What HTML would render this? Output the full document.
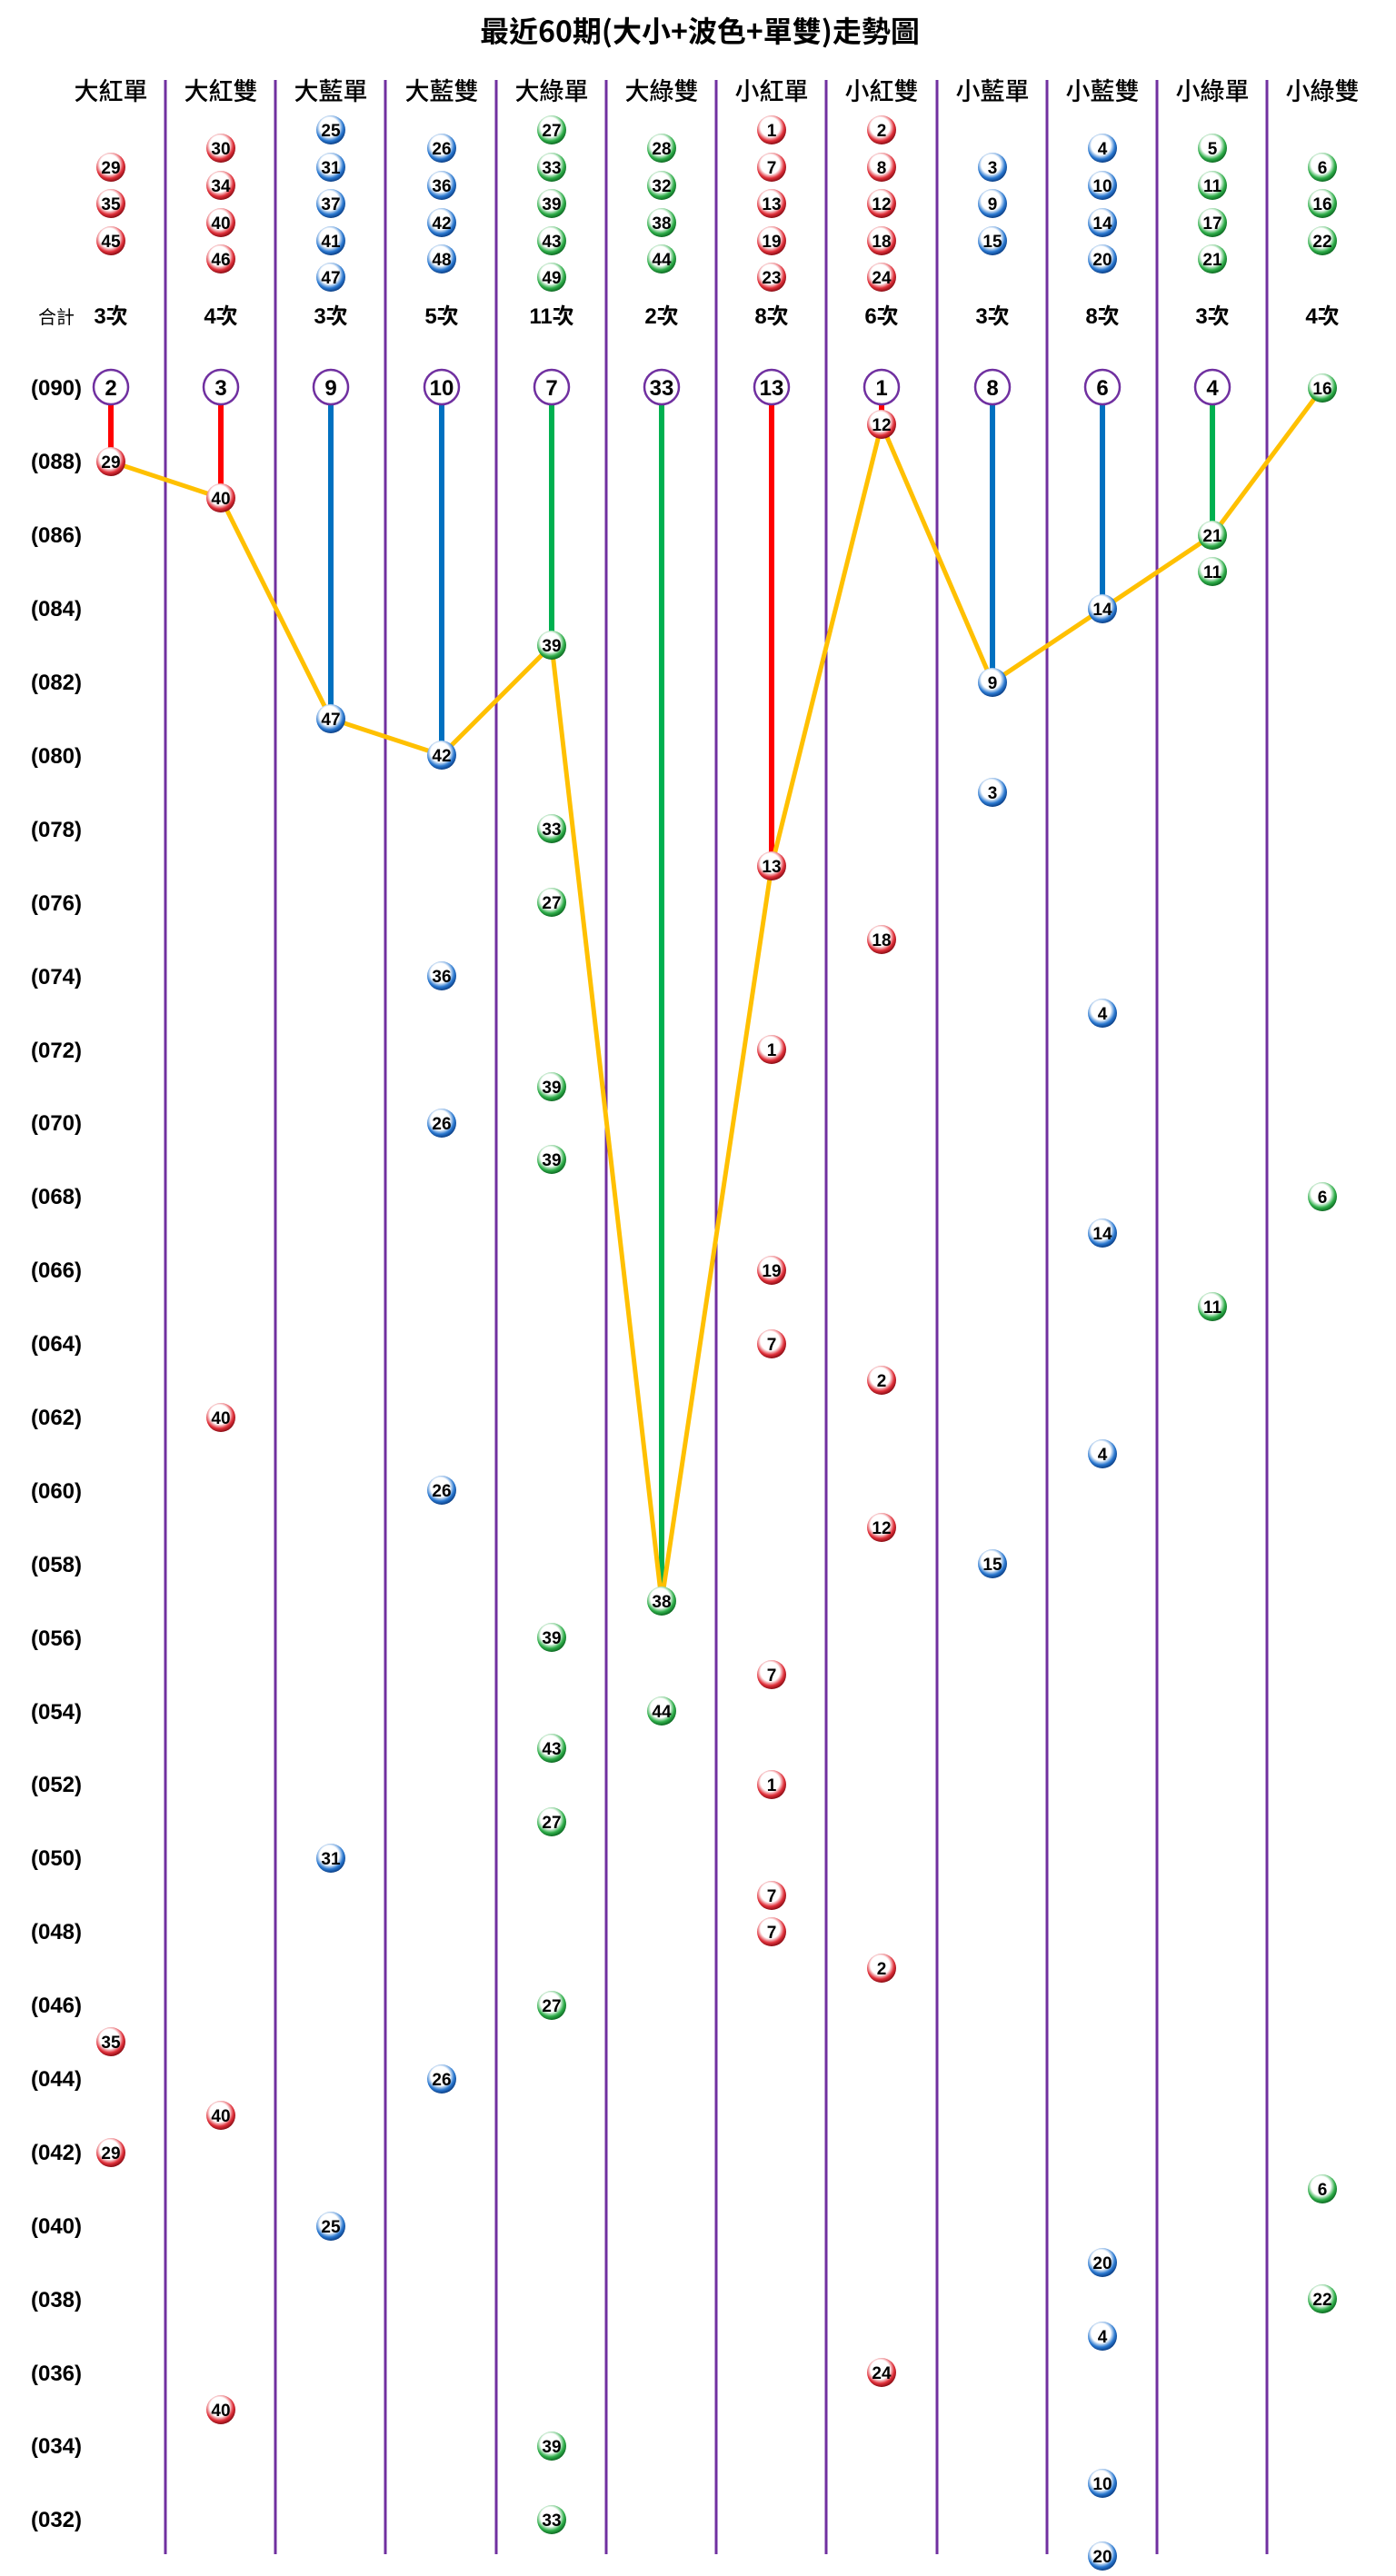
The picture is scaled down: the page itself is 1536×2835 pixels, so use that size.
<!DOCTYPE html>
<html><head><meta charset="utf-8">
<style>
html,body{margin:0;padding:0;background:#fff;}
svg{display:block;}
text{font-family:"Liberation Sans","Noto Sans CJK TC",sans-serif;}
.h{font-size:27px;fill:#000;text-anchor:middle;font-family:"Noto Sans CJK TC","Liberation Sans",sans-serif;font-weight:500}
.t{font-size:24px;fill:#000;text-anchor:middle;font-weight:bold;font-family:"Liberation Sans","Noto Sans CJK TC",sans-serif;}
.p{font-size:24px;font-weight:bold;fill:#000;text-anchor:middle;}
.c{font-size:24px;font-weight:bold;fill:#000;text-anchor:middle;}
.b text{font-size:19px;font-weight:bold;fill:#000;text-anchor:middle;transform:translateY(1px);}
</style></head><body>
<svg width="1536" height="2835" viewBox="0 0 1536 2835" xmlns="http://www.w3.org/2000/svg">
<defs>
<radialGradient id="gR" cx="45%" cy="40%" r="60%"><stop offset="0" stop-color="#fff"/><stop offset="0.55" stop-color="#fff"/><stop offset="0.8" stop-color="#e0303a"/><stop offset="1" stop-color="#8a0c14"/></radialGradient>
<radialGradient id="gB" cx="45%" cy="40%" r="60%"><stop offset="0" stop-color="#fff"/><stop offset="0.55" stop-color="#fff"/><stop offset="0.8" stop-color="#2a78d0"/><stop offset="1" stop-color="#0b3f86"/></radialGradient>
<radialGradient id="gG" cx="45%" cy="40%" r="60%"><stop offset="0" stop-color="#fff"/><stop offset="0.55" stop-color="#fff"/><stop offset="0.8" stop-color="#2fae4a"/><stop offset="1" stop-color="#0d6a22"/></radialGradient>
</defs>
<text x="770" y="46" style="font-size:32px;font-weight:bold;text-anchor:middle;font-family:'Noto Sans CJK TC','Liberation Sans',sans-serif">最近60期(大小+波色+單雙)走勢圖</text>
<g stroke="#7030A0" stroke-width="3">
<line x1="182" y1="88" x2="182" y2="2811"/><line x1="303" y1="88" x2="303" y2="2811"/><line x1="424" y1="88" x2="424" y2="2811"/><line x1="546" y1="88" x2="546" y2="2811"/><line x1="667" y1="88" x2="667" y2="2811"/><line x1="788" y1="88" x2="788" y2="2811"/><line x1="909" y1="88" x2="909" y2="2811"/><line x1="1031" y1="88" x2="1031" y2="2811"/><line x1="1152" y1="88" x2="1152" y2="2811"/><line x1="1273" y1="88" x2="1273" y2="2811"/><line x1="1394" y1="88" x2="1394" y2="2811"/>
</g>
<g class="h">
<text x="122" y="110">大紅單</text><text x="243" y="110">大紅雙</text><text x="364" y="110">大藍單</text><text x="486" y="110">大藍雙</text><text x="607" y="110">大綠單</text><text x="728" y="110">大綠雙</text><text x="849" y="110">小紅單</text><text x="970" y="110">小紅雙</text><text x="1092" y="110">小藍單</text><text x="1213" y="110">小藍雙</text><text x="1334" y="110">小綠單</text><text x="1455" y="110">小綠雙</text>
</g>
<g class="t">
<text x="62" y="356" style="font-size:20px;font-weight:normal">合計</text>
<text x="122" y="356">3次</text><text x="243" y="356">4次</text><text x="364" y="356">3次</text><text x="486" y="356">5次</text><text x="607" y="356">11次</text><text x="728" y="356">2次</text><text x="849" y="356">8次</text><text x="970" y="356">6次</text><text x="1092" y="356">3次</text><text x="1213" y="356">8次</text><text x="1334" y="356">3次</text><text x="1455" y="356">4次</text>
</g>
<g class="p">
<text x="62" y="435">(090)</text><text x="62" y="516">(088)</text><text x="62" y="597">(086)</text><text x="62" y="678">(084)</text><text x="62" y="759">(082)</text><text x="62" y="840">(080)</text><text x="62" y="921">(078)</text><text x="62" y="1002">(076)</text><text x="62" y="1083">(074)</text><text x="62" y="1164">(072)</text><text x="62" y="1244">(070)</text><text x="62" y="1325">(068)</text><text x="62" y="1406">(066)</text><text x="62" y="1487">(064)</text><text x="62" y="1568">(062)</text><text x="62" y="1649">(060)</text><text x="62" y="1730">(058)</text><text x="62" y="1811">(056)</text><text x="62" y="1892">(054)</text><text x="62" y="1972">(052)</text><text x="62" y="2053">(050)</text><text x="62" y="2134">(048)</text><text x="62" y="2215">(046)</text><text x="62" y="2296">(044)</text><text x="62" y="2377">(042)</text><text x="62" y="2458">(040)</text><text x="62" y="2539">(038)</text><text x="62" y="2620">(036)</text><text x="62" y="2700">(034)</text><text x="62" y="2781">(032)</text>
</g>
<g stroke-width="6">
<line x1="122" y1="445" x2="122" y2="508" stroke="#FF0000"/>
<line x1="243" y1="445" x2="243" y2="548" stroke="#FF0000"/>
<line x1="364" y1="445" x2="364" y2="791" stroke="#0070C0"/>
<line x1="486" y1="445" x2="486" y2="831" stroke="#0070C0"/>
<line x1="607" y1="445" x2="607" y2="710" stroke="#00B050"/>
<line x1="728" y1="445" x2="728" y2="1762" stroke="#00B050"/>
<line x1="849" y1="445" x2="849" y2="953" stroke="#FF0000"/>
<line x1="970" y1="445" x2="970" y2="467" stroke="#FF0000"/>
<line x1="1092" y1="445" x2="1092" y2="751" stroke="#0070C0"/>
<line x1="1213" y1="445" x2="1213" y2="670" stroke="#0070C0"/>
<line x1="1334" y1="445" x2="1334" y2="589" stroke="#00B050"/>
</g>
<polyline fill="none" stroke="#FFC000" stroke-width="5" stroke-linejoin="round" points="122,508 243,548 364,791 486,831 607,710 728,1762 849,953 970,467 1092,751 1213,670 1334,589 1455,427"/>
<g fill="#fff" stroke="#7030A0" stroke-width="2.5">
<circle cx="122" cy="426" r="19"/><circle cx="243" cy="426" r="19"/><circle cx="364" cy="426" r="19"/><circle cx="486" cy="426" r="19"/><circle cx="607" cy="426" r="19"/><circle cx="728" cy="426" r="19"/><circle cx="849" cy="426" r="19"/><circle cx="970" cy="426" r="19"/><circle cx="1092" cy="426" r="19"/><circle cx="1213" cy="426" r="19"/><circle cx="1334" cy="426" r="19"/>
</g>
<g class="c">
<text x="122" y="435">2</text><text x="243" y="435">3</text><text x="364" y="435">9</text><text x="486" y="435">10</text><text x="607" y="435">7</text><text x="728" y="435">33</text><text x="849" y="435">13</text><text x="970" y="435">1</text><text x="1092" y="435">8</text><text x="1213" y="435">6</text><text x="1334" y="435">4</text>
</g>
<g class="b">
<circle cx="122" cy="184" r="16" fill="url(#gR)"/><text x="122" y="190">29</text>
<circle cx="122" cy="224" r="16" fill="url(#gR)"/><text x="122" y="230">35</text>
<circle cx="122" cy="265" r="16" fill="url(#gR)"/><text x="122" y="271">45</text>
<circle cx="243" cy="163" r="16" fill="url(#gR)"/><text x="243" y="169">30</text>
<circle cx="243" cy="204" r="16" fill="url(#gR)"/><text x="243" y="210">34</text>
<circle cx="243" cy="245" r="16" fill="url(#gR)"/><text x="243" y="251">40</text>
<circle cx="243" cy="285" r="16" fill="url(#gR)"/><text x="243" y="291">46</text>
<circle cx="364" cy="143" r="16" fill="url(#gB)"/><text x="364" y="149">25</text>
<circle cx="364" cy="184" r="16" fill="url(#gB)"/><text x="364" y="190">31</text>
<circle cx="364" cy="224" r="16" fill="url(#gB)"/><text x="364" y="230">37</text>
<circle cx="364" cy="265" r="16" fill="url(#gB)"/><text x="364" y="271">41</text>
<circle cx="364" cy="305" r="16" fill="url(#gB)"/><text x="364" y="311">47</text>
<circle cx="486" cy="163" r="16" fill="url(#gB)"/><text x="486" y="169">26</text>
<circle cx="486" cy="204" r="16" fill="url(#gB)"/><text x="486" y="210">36</text>
<circle cx="486" cy="245" r="16" fill="url(#gB)"/><text x="486" y="251">42</text>
<circle cx="486" cy="285" r="16" fill="url(#gB)"/><text x="486" y="291">48</text>
<circle cx="607" cy="143" r="16" fill="url(#gG)"/><text x="607" y="149">27</text>
<circle cx="607" cy="184" r="16" fill="url(#gG)"/><text x="607" y="190">33</text>
<circle cx="607" cy="224" r="16" fill="url(#gG)"/><text x="607" y="230">39</text>
<circle cx="607" cy="265" r="16" fill="url(#gG)"/><text x="607" y="271">43</text>
<circle cx="607" cy="305" r="16" fill="url(#gG)"/><text x="607" y="311">49</text>
<circle cx="728" cy="163" r="16" fill="url(#gG)"/><text x="728" y="169">28</text>
<circle cx="728" cy="204" r="16" fill="url(#gG)"/><text x="728" y="210">32</text>
<circle cx="728" cy="245" r="16" fill="url(#gG)"/><text x="728" y="251">38</text>
<circle cx="728" cy="285" r="16" fill="url(#gG)"/><text x="728" y="291">44</text>
<circle cx="849" cy="143" r="16" fill="url(#gR)"/><text x="849" y="149">1</text>
<circle cx="849" cy="184" r="16" fill="url(#gR)"/><text x="849" y="190">7</text>
<circle cx="849" cy="224" r="16" fill="url(#gR)"/><text x="849" y="230">13</text>
<circle cx="849" cy="265" r="16" fill="url(#gR)"/><text x="849" y="271">19</text>
<circle cx="849" cy="305" r="16" fill="url(#gR)"/><text x="849" y="311">23</text>
<circle cx="970" cy="143" r="16" fill="url(#gR)"/><text x="970" y="149">2</text>
<circle cx="970" cy="184" r="16" fill="url(#gR)"/><text x="970" y="190">8</text>
<circle cx="970" cy="224" r="16" fill="url(#gR)"/><text x="970" y="230">12</text>
<circle cx="970" cy="265" r="16" fill="url(#gR)"/><text x="970" y="271">18</text>
<circle cx="970" cy="305" r="16" fill="url(#gR)"/><text x="970" y="311">24</text>
<circle cx="1092" cy="184" r="16" fill="url(#gB)"/><text x="1092" y="190">3</text>
<circle cx="1092" cy="224" r="16" fill="url(#gB)"/><text x="1092" y="230">9</text>
<circle cx="1092" cy="265" r="16" fill="url(#gB)"/><text x="1092" y="271">15</text>
<circle cx="1213" cy="163" r="16" fill="url(#gB)"/><text x="1213" y="169">4</text>
<circle cx="1213" cy="204" r="16" fill="url(#gB)"/><text x="1213" y="210">10</text>
<circle cx="1213" cy="245" r="16" fill="url(#gB)"/><text x="1213" y="251">14</text>
<circle cx="1213" cy="285" r="16" fill="url(#gB)"/><text x="1213" y="291">20</text>
<circle cx="1334" cy="163" r="16" fill="url(#gG)"/><text x="1334" y="169">5</text>
<circle cx="1334" cy="204" r="16" fill="url(#gG)"/><text x="1334" y="210">11</text>
<circle cx="1334" cy="245" r="16" fill="url(#gG)"/><text x="1334" y="251">17</text>
<circle cx="1334" cy="285" r="16" fill="url(#gG)"/><text x="1334" y="291">21</text>
<circle cx="1455" cy="184" r="16" fill="url(#gG)"/><text x="1455" y="190">6</text>
<circle cx="1455" cy="224" r="16" fill="url(#gG)"/><text x="1455" y="230">16</text>
<circle cx="1455" cy="265" r="16" fill="url(#gG)"/><text x="1455" y="271">22</text>
</g>
<g class="b">
<circle cx="122" cy="508" r="16" fill="url(#gR)"/><text x="122" y="514">29</text>
<circle cx="122" cy="2247" r="16" fill="url(#gR)"/><text x="122" y="2253">35</text>
<circle cx="122" cy="2369" r="16" fill="url(#gR)"/><text x="122" y="2375">29</text>
<circle cx="243" cy="548" r="16" fill="url(#gR)"/><text x="243" y="554">40</text>
<circle cx="243" cy="1560" r="16" fill="url(#gR)"/><text x="243" y="1566">40</text>
<circle cx="243" cy="2328" r="16" fill="url(#gR)"/><text x="243" y="2334">40</text>
<circle cx="243" cy="2652" r="16" fill="url(#gR)"/><text x="243" y="2658">40</text>
<circle cx="364" cy="791" r="16" fill="url(#gB)"/><text x="364" y="797">47</text>
<circle cx="364" cy="2045" r="16" fill="url(#gB)"/><text x="364" y="2051">31</text>
<circle cx="364" cy="2450" r="16" fill="url(#gB)"/><text x="364" y="2456">25</text>
<circle cx="486" cy="831" r="16" fill="url(#gB)"/><text x="486" y="837">42</text>
<circle cx="486" cy="1074" r="16" fill="url(#gB)"/><text x="486" y="1080">36</text>
<circle cx="486" cy="1236" r="16" fill="url(#gB)"/><text x="486" y="1242">26</text>
<circle cx="486" cy="1640" r="16" fill="url(#gB)"/><text x="486" y="1646">26</text>
<circle cx="486" cy="2288" r="16" fill="url(#gB)"/><text x="486" y="2294">26</text>
<circle cx="607" cy="710" r="16" fill="url(#gG)"/><text x="607" y="716">39</text>
<circle cx="607" cy="912" r="16" fill="url(#gG)"/><text x="607" y="918">33</text>
<circle cx="607" cy="993" r="16" fill="url(#gG)"/><text x="607" y="999">27</text>
<circle cx="607" cy="1196" r="16" fill="url(#gG)"/><text x="607" y="1202">39</text>
<circle cx="607" cy="1276" r="16" fill="url(#gG)"/><text x="607" y="1282">39</text>
<circle cx="607" cy="1802" r="16" fill="url(#gG)"/><text x="607" y="1808">39</text>
<circle cx="607" cy="1924" r="16" fill="url(#gG)"/><text x="607" y="1930">43</text>
<circle cx="607" cy="2005" r="16" fill="url(#gG)"/><text x="607" y="2011">27</text>
<circle cx="607" cy="2207" r="16" fill="url(#gG)"/><text x="607" y="2213">27</text>
<circle cx="607" cy="2692" r="16" fill="url(#gG)"/><text x="607" y="2698">39</text>
<circle cx="607" cy="2773" r="16" fill="url(#gG)"/><text x="607" y="2779">33</text>
<circle cx="728" cy="1762" r="16" fill="url(#gG)"/><text x="728" y="1768">38</text>
<circle cx="728" cy="1883" r="16" fill="url(#gG)"/><text x="728" y="1889">44</text>
<circle cx="849" cy="953" r="16" fill="url(#gR)"/><text x="849" y="959">13</text>
<circle cx="849" cy="1155" r="16" fill="url(#gR)"/><text x="849" y="1161">1</text>
<circle cx="849" cy="1398" r="16" fill="url(#gR)"/><text x="849" y="1404">19</text>
<circle cx="849" cy="1479" r="16" fill="url(#gR)"/><text x="849" y="1485">7</text>
<circle cx="849" cy="1843" r="16" fill="url(#gR)"/><text x="849" y="1849">7</text>
<circle cx="849" cy="1964" r="16" fill="url(#gR)"/><text x="849" y="1970">1</text>
<circle cx="849" cy="2086" r="16" fill="url(#gR)"/><text x="849" y="2092">7</text>
<circle cx="849" cy="2126" r="16" fill="url(#gR)"/><text x="849" y="2132">7</text>
<circle cx="970" cy="467" r="16" fill="url(#gR)"/><text x="970" y="473">12</text>
<circle cx="970" cy="1034" r="16" fill="url(#gR)"/><text x="970" y="1040">18</text>
<circle cx="970" cy="1519" r="16" fill="url(#gR)"/><text x="970" y="1525">2</text>
<circle cx="970" cy="1681" r="16" fill="url(#gR)"/><text x="970" y="1687">12</text>
<circle cx="970" cy="2166" r="16" fill="url(#gR)"/><text x="970" y="2172">2</text>
<circle cx="970" cy="2611" r="16" fill="url(#gR)"/><text x="970" y="2617">24</text>
<circle cx="1092" cy="751" r="16" fill="url(#gB)"/><text x="1092" y="757">9</text>
<circle cx="1092" cy="872" r="16" fill="url(#gB)"/><text x="1092" y="878">3</text>
<circle cx="1092" cy="1721" r="16" fill="url(#gB)"/><text x="1092" y="1727">15</text>
<circle cx="1213" cy="670" r="16" fill="url(#gB)"/><text x="1213" y="676">14</text>
<circle cx="1213" cy="1115" r="16" fill="url(#gB)"/><text x="1213" y="1121">4</text>
<circle cx="1213" cy="1357" r="16" fill="url(#gB)"/><text x="1213" y="1363">14</text>
<circle cx="1213" cy="1600" r="16" fill="url(#gB)"/><text x="1213" y="1606">4</text>
<circle cx="1213" cy="2490" r="16" fill="url(#gB)"/><text x="1213" y="2496">20</text>
<circle cx="1213" cy="2571" r="16" fill="url(#gB)"/><text x="1213" y="2577">4</text>
<circle cx="1213" cy="2733" r="16" fill="url(#gB)"/><text x="1213" y="2739">10</text>
<circle cx="1213" cy="2813" r="16" fill="url(#gB)"/><text x="1213" y="2819">20</text>
<circle cx="1334" cy="589" r="16" fill="url(#gG)"/><text x="1334" y="595">21</text>
<circle cx="1334" cy="629" r="16" fill="url(#gG)"/><text x="1334" y="635">11</text>
<circle cx="1334" cy="1438" r="16" fill="url(#gG)"/><text x="1334" y="1444">11</text>
<circle cx="1455" cy="427" r="16" fill="url(#gG)"/><text x="1455" y="433">16</text>
<circle cx="1455" cy="1317" r="16" fill="url(#gG)"/><text x="1455" y="1323">6</text>
<circle cx="1455" cy="2409" r="16" fill="url(#gG)"/><text x="1455" y="2415">6</text>
<circle cx="1455" cy="2530" r="16" fill="url(#gG)"/><text x="1455" y="2536">22</text>
</g>
</svg>
</body></html>
